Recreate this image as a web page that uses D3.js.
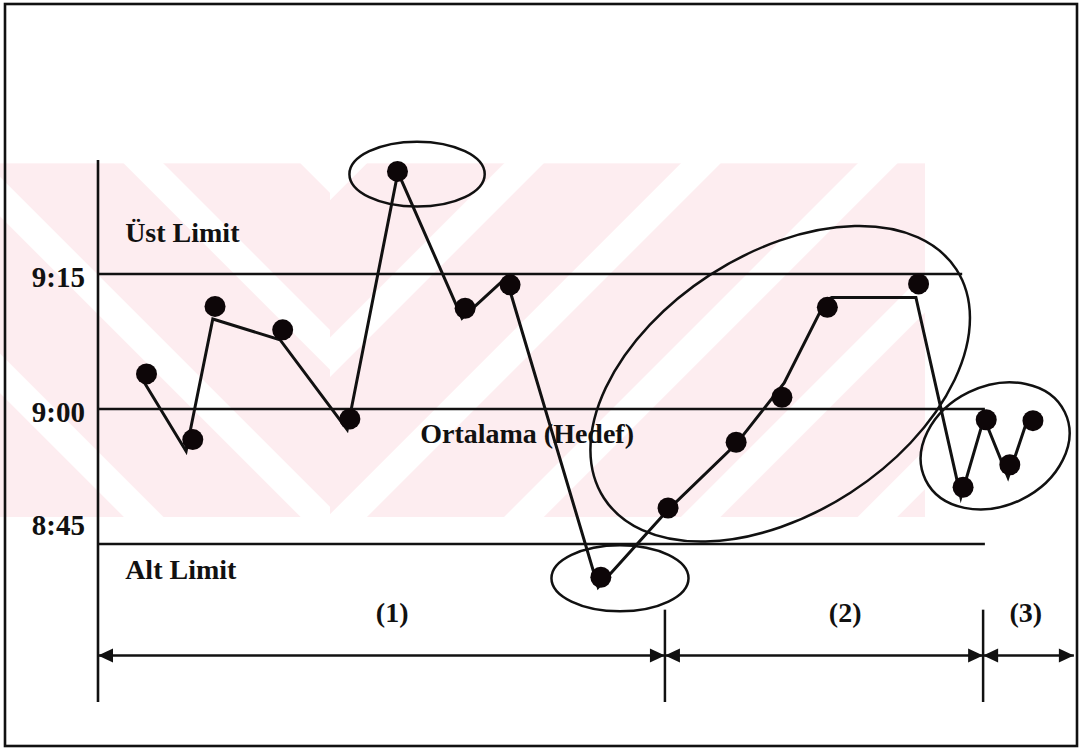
<!DOCTYPE html>
<html><head><meta charset="utf-8">
<script src="https://cdn.jsdelivr.net/npm/d3@7"></script>
<style>html,body{margin:0;padding:0;background:#fff}svg{display:block}</style>
</head><body>
<svg id="c" width="1081" height="749"></svg>
<script>
// ---------- DATA (times as minutes relative to 9:00) ----------
const tickLabels = ["9:15", "9:00", "8:45"];
const tickValues = [15, 0, -15];
const limitNames = ["Üst Limit", "Ortalama (Hedef)", "Alt Limit"];
const limitValues = [15, 0, -15];
const limitEnds = [19.42, 19.93, 19.93];          // x-units where each limit line stops

// observations (markers)
const sampleX   = [1.09, 2.13, 2.63, 4.15, 5.66, 6.73, 8.25, 9.26, 11.30, 12.81, 14.34, 15.37, 16.39, 18.44, 19.44, 19.96, 20.49, 21.01];
const sampleMin = [3.9, -3.4, 11.4, 8.8, -1.1, 26.4, 11.2, 13.8, -18.7, -11.0, -3.7, 1.3, 11.3, 13.9, -8.7, -1.2, -6.2, -1.3];

// hand-drawn trace connecting the observations
const traceX   = [1.01, 1.98, 2.58, 4.09, 5.60, 6.74, 8.18, 9.17, 11.24, 12.81, 14.34, 15.42, 16.36, 16.49, 18.38, 19.39, 19.91, 20.45, 20.94];
const traceMin = [3.2, -4.7, 10.0, 7.7, -2.3, 26.3, 10.1, 14.6, -19.8, -11.2, -3.9, 2.9, 12.1, 12.4, 12.4, -9.8, -1.0, -7.6, -0.4];

// phases
const phaseLabels = ["(1)", "(2)", "(3)"];
const phaseBounds = [0, 12.74, 19.89, 21.93];
const phaseLabelX = [6.61, 16.79, 20.85];

// circled groups: centre (x-units, minutes), radii (x-units, minutes), tilt in degrees
const ringCx  = [7.17, 11.73, 15.33, 20.16];
const ringCy  = [26.1, -18.8, 2.8, -4.1];
const ringRx  = [1.52, 1.54, 4.72, 1.74];
const ringRy  = [3.61, 3.67, 14.4, 6.64];
const ringRot = [0, 0, -33, -26];

// ---------- LAYOUT ----------
const svg = d3.select("#c");
const x = d3.scaleLinear().domain([0, 22]).range([98, 1077]);
const y = d3.scaleLinear().domain([-32.56, 27.67]).range([702, 160]);
const font = "'Liberation Serif','Times New Roman',serif";
const ink = "#111";

// watermark (faint pink stripes)
const defs = svg.append("defs");
function stripe(id, ang) {
  const p = defs.append("pattern").attr("id", id).attr("patternUnits", "userSpaceOnUse")
    .attr("width", 125).attr("height", 125).attr("patternTransform", `rotate(${ang})`);
  p.append("rect").attr("width", 125).attr("height", 125).attr("fill", "#fdedf0");
  p.append("rect").attr("x", 97).attr("width", 28).attr("height", 125).attr("fill", "#fff");
}
stripe("sL", -45); stripe("sR", 45);
const wm = svg.append("g");
wm.append("rect").attr("x", 0).attr("y", y(27.3)).attr("width", 330).attr("height", y(-12.0) - y(27.3)).attr("fill", "url(#sL)");
wm.append("rect").attr("x", 330).attr("y", y(27.3)).attr("width", 595).attr("height", y(-12.0) - y(27.3)).attr("fill", "url(#sR)");

// frame
svg.append("rect").attr("x", 5).attr("y", 4).attr("width", 1072).attr("height", 742)
  .attr("fill", "none").attr("stroke", ink).attr("stroke-width", 2.6);

// y axis line
svg.append("line").attr("x1", x(0)).attr("x2", x(0)).attr("y1", y.range()[0]).attr("y2", y.range()[1])
  .attr("stroke", ink).attr("stroke-width", 2.6);

// limit lines
svg.append("g").selectAll("line").data(limitValues).join("line")
  .attr("x1", x(0)).attr("x2", (d, i) => x(limitEnds[i]))
  .attr("y1", d => y(d)).attr("y2", d => y(d))
  .attr("stroke", ink).attr("stroke-width", 2.5);

// tick labels
const tickDy = [13, 13, -9];
svg.append("g").selectAll("text").data(tickValues).join("text")
  .attr("x", x(0) - 13).attr("y", (d, i) => y(d) + tickDy[i])
  .attr("text-anchor", "end").attr("font-family", font).attr("font-weight", "bold")
  .attr("font-size", 29).attr("fill", ink).text((d, i) => tickLabels[i]);

// limit names
const nameX = [0.61, 7.24, 0.61];
const nameY = [18.6, -3.8, -18.9];
svg.append("g").selectAll("text").data(limitNames).join("text")
  .attr("x", (d, i) => x(nameX[i])).attr("y", (d, i) => y(nameY[i]))
  .attr("font-family", font).attr("font-weight", "bold").attr("font-size", 28)
  .attr("fill", ink).text(d => d);

// rings
svg.append("g").selectAll("ellipse").data(ringCx).join("ellipse")
  .attr("cx", 0).attr("cy", 0)
  .attr("rx", (d, i) => x(d + ringRx[i]) - x(d))
  .attr("ry", (d, i) => y(ringCy[i] - ringRy[i]) - y(ringCy[i]))
  .attr("transform", (d, i) => `translate(${x(d)},${y(ringCy[i])}) rotate(${ringRot[i]})`)
  .attr("fill", "none").attr("stroke", ink).attr("stroke-width", 2.5);

// trace
const trace = traceX.map((v, i) => [v, traceMin[i]]);
svg.append("path").datum(trace)
  .attr("d", d3.line().x(d => x(d[0])).y(d => y(d[1])))
  .attr("fill", "none").attr("stroke", ink).attr("stroke-width", 3).attr("stroke-linejoin", "miter");

// markers
svg.append("g").selectAll("circle").data(sampleX).join("circle")
  .attr("cx", d => x(d)).attr("cy", (d, i) => y(sampleMin[i])).attr("r", 10.5).attr("fill", "#0d0608");

// phase arrows
const arrowLevel = -27.4, tickTop = -22.3;
const ay = y(arrowLevel);
const g = svg.append("g");
g.append("line").attr("x1", x(phaseBounds[0])).attr("x2", x(phaseBounds[3]))
  .attr("y1", ay).attr("y2", ay).attr("stroke", ink).attr("stroke-width", 2.5);
phaseBounds.slice(1, 3).forEach(b => {
  g.append("line").attr("x1", x(b)).attr("x2", x(b)).attr("y1", y(tickTop)).attr("y2", y.range()[0])
    .attr("stroke", ink).attr("stroke-width", 2.5);
});
function head(tip, dir) {
  const L = 15, h = 7;
  g.append("path").attr("d", `M${tip},${ay} L${tip - dir * L},${ay - h} L${tip - dir * L},${ay + h} Z`).attr("fill", ink);
}
for (let i = 0; i < 3; i++) {
  head(x(phaseBounds[i]), -1);
  head(x(phaseBounds[i + 1]), 1);
}
g.selectAll("text").data(phaseLabels).join("text")
  .attr("x", (d, i) => x(phaseLabelX[i])).attr("y", y(-23.7))
  .attr("text-anchor", "middle").attr("font-family", font).attr("font-weight", "bold")
  .attr("font-size", 28).attr("fill", ink).text(d => d);
</script>
</body></html>
